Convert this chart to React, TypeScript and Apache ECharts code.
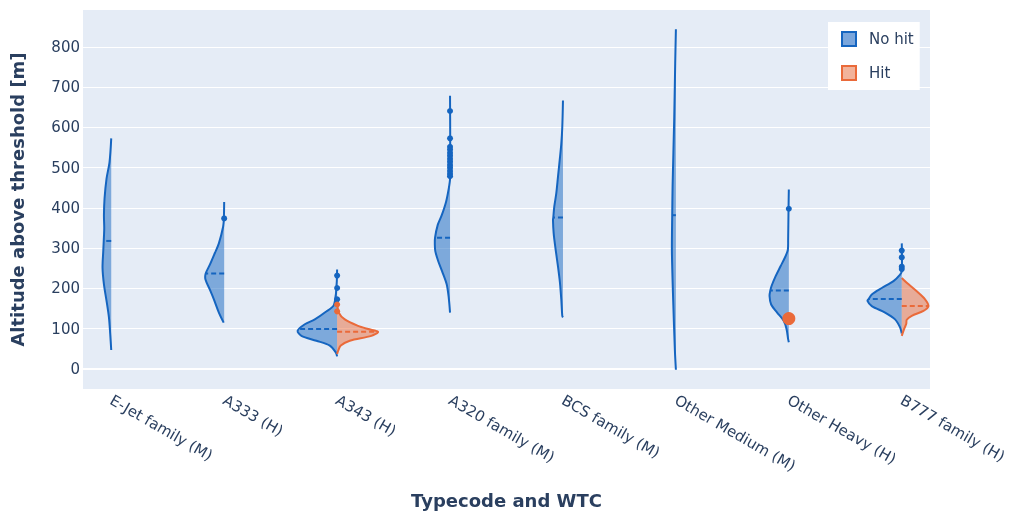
import React, { useEffect, useRef } from 'react';
import * as echarts from 'echarts';

const categories = [
  'E-Jet family (M)',
  'A333 (H)',
  'A343 (H)',
  'A320 family (M)',
  'BCS family (M)',
  'Other Medium (M)',
  'Other Heavy (H)',
  'B777 family (H)',
];
const yTicks = [0, 100, 200, 300, 400, 500, 600, 700, 800];
const xTicks = [0, 1, 2, 3, 4, 5, 6, 7];

// Kernel density profiles: [altitude, density (half-width)]
const noHitEJet = [[573, 0], [514, 1.7], [473, 4.7], [423, 6.7], [382, 7.3], [349, 7], [318, 7.5], [292, 8], [251, 8.7], [210, 7.3], [169, 4.7], [128, 2.3], [86, 1], [47, 0]];
const noHitA333 = [[415, 0], [374, 0.3], [354, 1], [312, 5.3], [288, 9.3], [259, 14.3], [237, 18.5], [222, 18.7], [197, 14.3], [173, 10.3], [140, 5.3], [115, 0.5]];
const noHitA343 = [[247, 0], [160, 3], [140, 12.3], [123, 22.3], [111, 32.3], [95, 39.5], [82, 35.7], [70, 20.7], [58, 7.3], [41, 1.3], [31, 0]];
const noHitA320 = [[679, 0], [473, 0], [448, 1.3], [415, 4], [382, 8.3], [358, 12.3], [326, 15], [308, 15.2], [292, 14.7], [267, 11.7], [243, 8], [210, 3.3], [177, 1.3], [140, 0]];
const noHitBCS = [[667, 0], [600, 0.7], [559, 1.7], [518, 3.3], [477, 5], [436, 6.7], [403, 8.7], [376, 9.7], [370, 10], [337, 9.3], [296, 7.3], [255, 5], [214, 3], [173, 1.7], [132, 0.7], [128, 0]];
const noHitOtherMedium = [[844, 0], [760, 0.7], [621, 1.7], [456, 3.3], [382, 3.7], [292, 4], [169, 2.7], [45, 1], [-2, 0]];
const noHitOtherHeavy = [[446, 0], [399, 0.3], [320, 0.7], [296, 1], [280, 3.3], [255, 8.3], [230, 13.3], [206, 17.3], [195, 18.5], [181, 19.3], [160, 17.7], [140, 11.7], [119, 5], [99, 2.3], [74, 0.7], [66, 0]];
const noHitB777 = [[312, 0], [243, 0], [234, 1.7], [218, 8.3], [201, 20], [185, 30], [174, 33], [169, 34.3], [156, 30], [140, 16.7], [123, 6.7], [103, 1.7], [88, 0]];

const hitA343 = [[169, 0], [140, 1.7], [123, 7.7], [107, 21], [99, 31], [92, 41], [82, 34.3], [70, 12.7], [58, 3.7], [45, 1], [37, 0]];
const hitB777 = [[226, 0], [214, 5], [193, 15], [173, 23.3], [156, 26.7], [144, 21.7], [132, 10], [122, 5], [112, 4.5], [100, 2.5], [82, 0]];

const noHitProfiles = [noHitEJet, noHitA333, noHitA343, noHitA320, noHitBCS, noHitOtherMedium, noHitOtherHeavy, noHitB777];
const noHitMeans = [318, 237, 99, 326, 376, 382, 195, 174];
const noHitOutliers = [
  [1, 374],
  [2, 232], [2, 201], [2, 173],
  [3, 641], [3, 573], [3, 552], [3, 545], [3, 537], [3, 530], [3, 522], [3, 515], [3, 507], [3, 500], [3, 492], [3, 485], [3, 479],
  [6, 398],
  [7, 294], [7, 277], [7, 254], [7, 248],
];

const hitProfiles = [null, null, hitA343, null, null, null, null, hitB777];
const hitMeans = [null, null, 92, null, null, null, null, 156];
const hitOutliers = [[2, 160], [2, 143]];
const hitSinglePoints = [[6, 125]];

const DENSITY_SCALE = 1 / 113; // x-axis units per density unit

const BLUE = '#1565c0';
const BLUE_FILL = 'rgba(21,101,192,0.5)';
const ORANGE = '#ea6a3a';
const ORANGE_FILL = 'rgba(234,106,58,0.5)';
const TEXT = '#2a3f5f';
const FONT = 'DejaVu Sans';

function widthAt(prof: number[][], v: number) {
  for (let i = 0; i < prof.length - 1; i++) {
    const [v1, d1] = prof[i];
    const [v2, d2] = prof[i + 1];
    if ((v <= v1 && v >= v2) || (v >= v1 && v <= v2)) {
      if (v1 === v2) return Math.max(d1, d2);
      return d1 + ((v - v1) / (v2 - v1)) * (d2 - d1);
    }
  }
  return 0;
}

function makeRender(profiles: any[], means: any[], side: number, line: string, fill: string) {
  return (params: any, api: any) => {
    const cat = api.value(0);
    const prof = profiles[cat];
    if (!prof) return null;
    const pts = prof.map(([v, d]: number[]) => api.coord([cat + side * d * DENSITY_SCALE, v]));
    const top = api.coord([cat, prof[0][0]]);
    const bot = api.coord([cat, prof[prof.length - 1][0]]);
    const mean = means[cat];
    const mw = widthAt(prof, mean);
    const m1 = api.coord([cat, mean]);
    const m2 = api.coord([cat + side * mw * DENSITY_SCALE, mean]);
    return {
      type: 'group',
      children: [
        { type: 'polygon', shape: { points: [top, ...pts, bot] }, style: { fill, stroke: null } },
        { type: 'polyline', shape: { points: pts, smooth: 0.3 }, style: { stroke: line, lineWidth: 2, fill: null } },
        { type: 'line', shape: { x1: m1[0], y1: m1[1], x2: m2[0], y2: m2[1] }, style: { stroke: line, lineWidth: 2, lineDash: [5, 3] } },
      ],
    };
  };
}

export default function App() {
  const ref = useRef<HTMLDivElement>(null);
  useEffect(() => {
    if (!ref.current) return;
    const chart = echarts.init(ref.current, undefined, { renderer: 'svg' });
    chart.setOption({
      animation: false,
      textStyle: { fontFamily: FONT },
      grid: { left: 82, right: 81, top: 10, bottom: 122, show: true, backgroundColor: '#E5ECF6', borderWidth: 0 },
      legend: {
        orient: 'vertical',
        left: 828,
        top: 22,
        backgroundColor: '#ffffff',
        padding: [9, 6, 9, 13],
        itemGap: 18,
        itemWidth: 14,
        itemHeight: 14,
        textStyle: { fontSize: 15, color: TEXT, fontFamily: FONT, padding: [0, 0, 0, 8] },
        data: [
          { name: 'No hit', icon: 'rect', itemStyle: { color: '#7aa6dc', borderColor: BLUE, borderWidth: 2 } },
          { name: 'Hit', icon: 'rect', itemStyle: { color: '#f2b39b', borderColor: ORANGE, borderWidth: 2 } },
        ],
      },
      xAxis: {
        type: 'value',
        min: -0.25,
        max: 7.25,
        axisLine: { show: false },
        splitLine: { show: false },
        axisTick: { show: false, customValues: xTicks },
        axisLabel: {
          customValues: xTicks,
          rotate: -30,
          margin: 10,
          fontSize: 15,
          color: TEXT,
          fontFamily: FONT,
          formatter: (v: number) => categories[Math.round(v)],
        },
        name: 'Typecode and WTC',
        nameLocation: 'middle',
        nameGap: 102,
        nameTextStyle: { fontSize: 18, fontWeight: 'bold', color: TEXT, fontFamily: FONT },
      },
      yAxis: {
        type: 'value',
        min: -50,
        max: 892,
        axisLine: { show: false },
        axisTick: { show: false, customValues: yTicks },
        splitLine: { show: true, lineStyle: { color: '#ffffff', width: 1 } },
        axisLabel: { customValues: yTicks, margin: 3, fontSize: 15, color: TEXT, fontFamily: FONT },
        name: 'Altitude above threshold [m]',
        nameLocation: 'middle',
        nameGap: 57,
        nameTextStyle: { fontSize: 18, fontWeight: 'bold', color: TEXT, fontFamily: FONT },
      },
      series: [
        {
          type: 'custom',
          name: 'No hit',
          z: 2,
          renderItem: makeRender(noHitProfiles, noHitMeans, -1, BLUE, BLUE_FILL),
          data: noHitMeans.map((m, i) => [i, m]),
          itemStyle: { color: BLUE },
          markLine: {
            silent: true,
            symbol: 'none',
            label: { show: false },
            lineStyle: { color: '#ffffff', width: 2, type: 'solid' },
            data: [{ yAxis: 0 }],
            z: 1,
          },
        },
        {
          type: 'custom',
          name: 'Hit',
          z: 2,
          renderItem: makeRender(hitProfiles, hitMeans, 1, ORANGE, ORANGE_FILL),
          data: hitMeans.map((m, i) => [i, m == null ? 0 : m]),
          itemStyle: { color: ORANGE },
        },
        {
          type: 'scatter',
          name: 'No hit',
          z: 3,
          symbolSize: 6,
          itemStyle: { color: BLUE, opacity: 1 },
          data: noHitOutliers,
        },
        {
          type: 'scatter',
          name: 'Hit',
          z: 3,
          symbolSize: 6,
          itemStyle: { color: ORANGE, opacity: 1 },
          data: hitOutliers,
        },
        {
          type: 'scatter',
          name: 'Hit',
          z: 3,
          symbolSize: 13,
          itemStyle: { color: ORANGE, opacity: 1 },
          data: hitSinglePoints,
        },
      ],
    });
    return () => chart.dispose();
  }, []);
  return <div ref={ref} style={{ position: 'fixed', left: 0, top: 0, width: 1011, height: 514 }} />;
}
